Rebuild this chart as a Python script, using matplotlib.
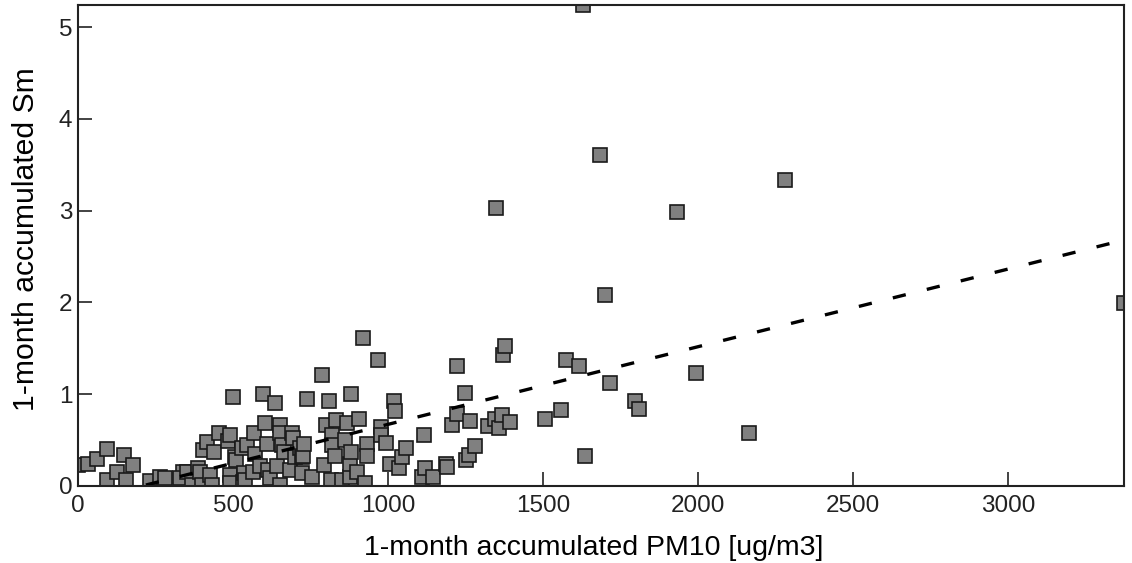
import matplotlib
matplotlib.use("Agg")
import matplotlib.pyplot as plt
import numpy as np

plt.rcParams['font.family'] = ['Liberation Sans', 'DejaVu Sans']

# Monthly accumulated PM10 and Sm values
pm10 = [0, 31, 62, 95, 93, 125, 149, 178, 155,
        232, 265, 281, 340, 329,
        351, 367, 388, 394, 399, 404, 415, 426, 431, 440, 456, 483, 490, 490, 490,
        501, 507, 510, 528, 532, 534, 539, 545, 566, 568, 571, 587, 598, 604, 609,
        614, 619, 634, 641, 650, 650, 652, 657, 663, 684, 690, 695, 700, 717, 722,
        722, 727, 730, 738, 754, 787, 795, 800, 811, 817, 819, 819, 830, 833, 851,
        862, 869, 876, 878, 881, 881, 900, 907, 918, 926, 932, 932, 967, 978, 978,
        994, 1005, 1018, 1023, 1034, 1045, 1059, 1109, 1115, 1120, 1144, 1188, 1190,
        1208, 1224, 1224, 1249, 1252, 1260, 1265, 1281, 1324, 1346, 1349, 1357, 1368,
        1371, 1376, 1392, 1507, 1558, 1574, 1615, 1630, 1634, 1684, 1701, 1715, 1796,
        1811, 1933, 1992, 2166, 2282, 3374]
sm = [0.23, 0.24, 0.29, 0.40, 0.06, 0.15, 0.34, 0.23, 0.06,
      0.05, 0.09, 0.08, 0.15, 0.08,
      0.15, 0.01, 0.19, 0.15, 0.01, 0.39, 0.48, 0.12, 0.01, 0.37, 0.57, 0.49, 0.55, 0.12, 0.03,
      0.97, 0.31, 0.28, 0.41, 0.04, 0.14, 0.06, 0.44, 0.15, 0.57, 0.35, 0.21, 1.00, 0.68, 0.46,
      0.17, 0.08, 0.90, 0.21, 0.66, 0.57, 0.01, 0.44, 0.37, 0.17, 0.57, 0.52, 0.31, 0.41, 0.31,
      0.14, 0.32, 0.46, 0.95, 0.10, 1.21, 0.23, 0.66, 0.92, 0.06, 0.55, 0.44, 0.32, 0.72, 0.06,
      0.50, 0.68, 0.10, 0.24, 0.37, 1.00, 0.15, 0.73, 1.61, 0.03, 0.45, 0.32, 1.37, 0.64, 0.55,
      0.47, 0.24, 0.92, 0.81, 0.19, 0.31, 0.41, 0.10, 0.55, 0.19, 0.10, 0.24, 0.20,
      0.66, 0.78, 1.31, 1.01, 0.28, 0.33, 0.71, 0.43, 0.65, 0.73, 3.03, 0.63, 0.77,
      1.43, 1.52, 0.69, 0.73, 0.83, 1.37, 1.31, 5.24, 0.32, 3.61, 2.08, 1.12, 0.92,
      0.84, 2.99, 1.23, 0.57, 3.33, 1.99]

# Linear trend: Sm = slope * PM10 + intercept
fit_slope = 0.000847
fit_intercept = -0.178

x_ticks = [0, 500, 1000, 1500, 2000, 2500, 3000]
y_ticks = [0, 1, 2, 3, 4, 5]

fig = plt.figure(figsize=(11.32, 5.63), dpi=100)
ax = fig.add_axes([0.0689, 0.1373, 0.9240, 0.8533])

ax.plot(pm10, sm, linestyle='none', marker='s', markersize=10,
        markerfacecolor='#808080', markeredgecolor='#1a1a1a', markeredgewidth=1.2)

x_fit = np.array([0, max(pm10)])
ax.plot(x_fit, fit_slope * x_fit + fit_intercept, color='black',
        linewidth=2.4, dashes=(4, 6.5))

ax.set_xlim(0, max(pm10))
ax.set_ylim(0, max(sm))
ax.set_xticks(x_ticks)
ax.set_yticks(y_ticks)
ax.tick_params(direction='in', length=10, width=1.2, labelsize=17.5,
               top=False, right=False, colors='#222222', labelcolor='#222222')
ax.tick_params(axis='x', pad=7)
ax.tick_params(axis='y', pad=4)
for s in ax.spines.values():
    s.set_linewidth(1.5)
    s.set_color('#222222')

ax.set_xlabel('1-month accumulated PM10 [ug/m3]', fontsize=20.5)
ax.set_ylabel('1-month accumulated Sm', fontsize=21.7)
ax.xaxis.label.set_va('center')
ax.yaxis.label.set_va('center')
ax.xaxis.set_label_coords(0.493, -0.130)
ax.yaxis.set_label_coords(-0.0497, 0.5136)

fig.savefig('out.png', dpi=100)
